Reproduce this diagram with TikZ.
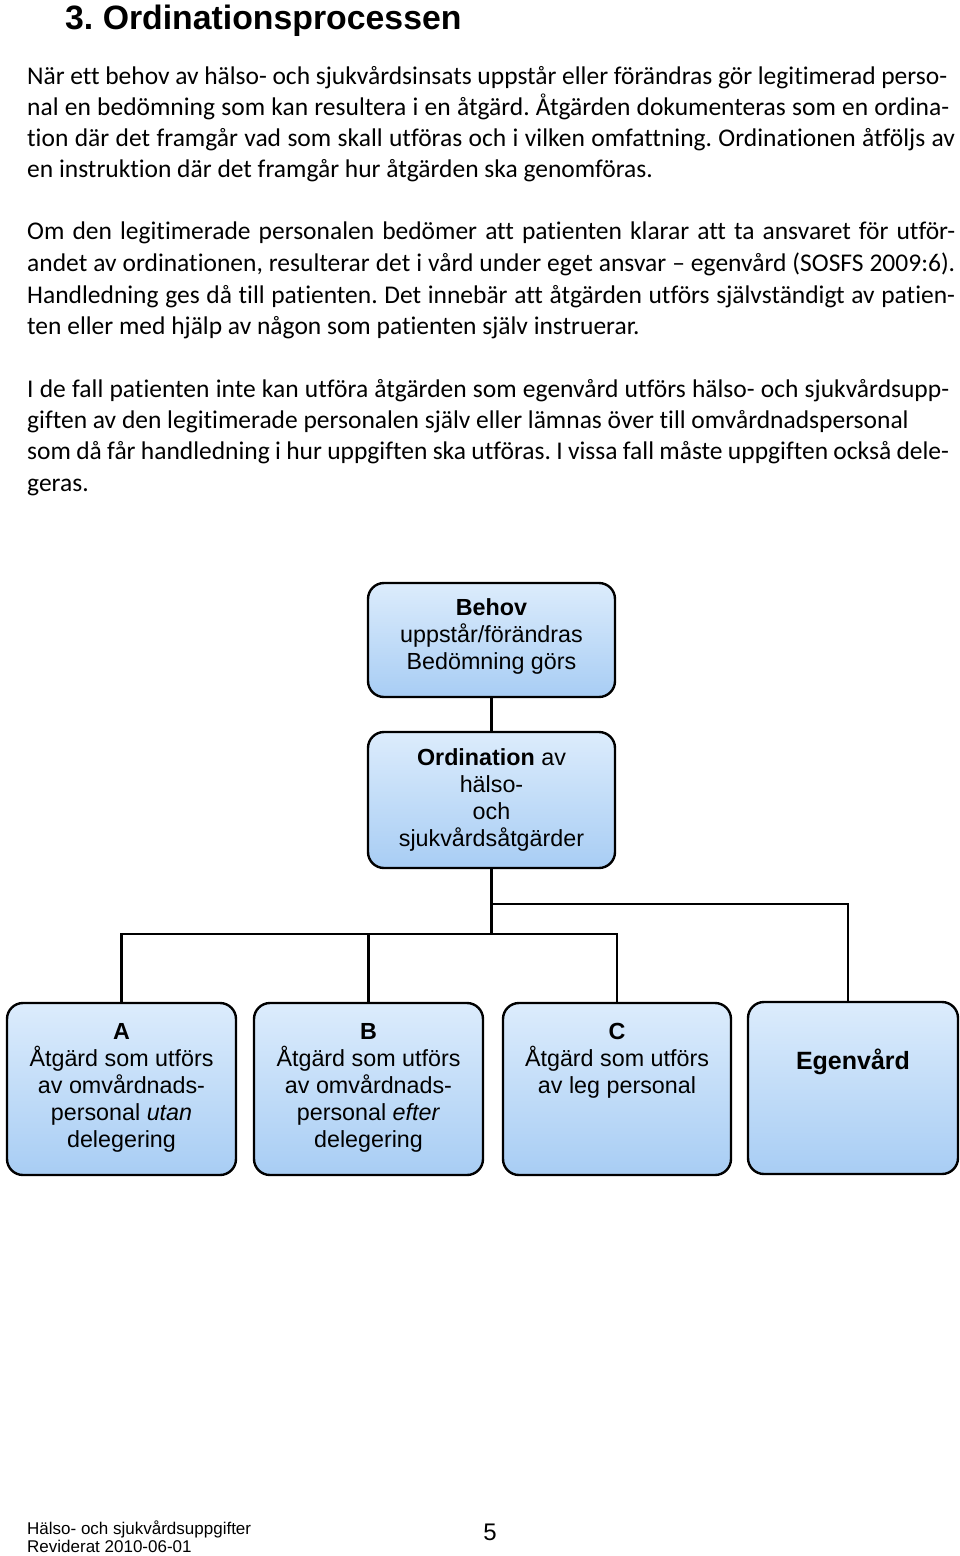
\documentclass[tikz,border=0pt]{standalone}
\usepackage{fontspec}
\setmainfont{Liberation Sans}
\newfontfamily\bodyfont[Ligatures={NoCommon}]{Carlito}
\definecolor{boxtop}{RGB}{220,236,252}
\definecolor{boxbot}{RGB}{168,205,244}
\frenchspacing
\begin{document}
\begin{tikzpicture}[x=1pt,y=-1pt,
  box/.style={draw=black, line width=2.4pt, rounded corners=16pt, top color=boxtop, bottom color=boxbot, inner sep=0pt, align=center, font=\fontsize{23.3}{27}\selectfont},
  conn/.style={line width=2.8pt},
  para/.style={anchor=base west, inner sep=0pt, font=\bodyfont\fontsize{25.5}{31}\selectfont},
  boxtext/.style={align=center, anchor=north, inner sep=0pt, font=\fontsize{23.3}{27}\selectfont}
]
\useasboundingbox (0,0) rectangle (960,1556);
% heading
\node[anchor=base west, inner sep=0pt, font=\bfseries\fontsize{33.8}{38}\selectfont] (head) at (65,29) {3. Ordinationsprocessen};
% paragraph 1
\node[para] (p11) at (27,84) {\hbox to 920pt{När ett behov av hälso- och sjukvårdsinsats uppstår eller förändras gör legitimerad perso-}};
\node[para] (p12) at (27,115) {\hbox to 922pt{nal en bedömning som kan resultera i en åtgärd. Åtgärden dokumenteras som en ordina-}};
\node[para] (p13) at (27,146) {\hbox to 928pt{tion där det framgår vad som skall utföras och i vilken omfattning. Ordinationen åtföljs av}};
\node[para] (p14) at (27,177) {en instruktion där det framgår hur åtgärden ska genomföras.};
% paragraph 2
\node[para] (p21) at (27,239) {\hbox to 928pt{Om den legitimerade personalen bedömer att patienten klarar att ta ansvaret för utför-}};
\node[para] (p22) at (27,271) {\hbox to 928pt{andet av ordinationen, resulterar det i vård under eget ansvar – egenvård (SOSFS 2009:6).}};
\node[para] (p23) at (27,303) {\hbox to 928pt{Handledning ges då till patienten. Det innebär att åtgärden utförs självständigt av patien-}};
\node[para] (p24) at (27,334) {ten eller med hjälp av någon som patienten själv instruerar.};
% paragraph 3
\node[para] (p31) at (27,397) {\hbox to 922pt{I de fall patienten inte kan utföra åtgärden som egenvård utförs hälso- och sjukvårdsupp-}};
\node[para] (p32) at (27,428) {giften av den legitimerade personalen själv eller lämnas över till omvårdnadspersonal};
\node[para] (p33) at (27,459) {\hbox to 922pt{som då får handledning i hur uppgiften ska utföras. I vissa fall måste uppgiften också dele-}};
\node[para] (p34) at (27,491) {geras.};
% boxes
\node[box, minimum width=247pt, minimum height=114pt] (behov) at (491.5,640) {};
\node[boxtext] (behovt) at ([yshift=-17pt]behov.north) {\textbf{Behov}\\uppstår/förändras\\Bedömning görs};
\node[box, minimum width=247pt, minimum height=136pt] (ord) at (491.5,800) {\textbf{Ordination} av\\hälso-\\och\\sjukvårdsåtgärder};
\node[box, minimum width=229pt, minimum height=172pt] (A) at (121.5,1089) {};
\node[box, minimum width=229pt, minimum height=172pt] (B) at (368.5,1089) {};
\node[box, minimum width=228pt, minimum height=172pt] (C) at (617,1089) {};
\node[box, minimum width=210pt, minimum height=172pt] (E) at (853,1088) {};
\node[boxtext] (At) at ([yshift=-21pt]A.north) {\textbf{A}\\Åtgärd som utförs\\av omvårdnads-\\personal \textit{utan}\\delegering};
\node[boxtext] (Bt) at ([yshift=-21pt]B.north) {\textbf{B}\\Åtgärd som utförs\\av omvårdnads-\\personal \textit{efter}\\delegering};
\node[boxtext] (Ct) at ([yshift=-21pt]C.north) {\textbf{C}\\Åtgärd som utförs\\av leg personal};
\node[inner sep=0pt, font=\bfseries\fontsize{25}{30}\selectfont] (Et) at (853,1062) {Egenvård};
% connectors
\coordinate (j1) at (491.5,904);
\coordinate (j2) at (491.5,934);
\draw[conn] (behov.south) -- (ord.north);
\draw[conn] (ord.south) -- (j2);
\draw[conn] (j1) -| ([xshift=-5pt]E.north);
\draw[conn] (A.north) |- (j2) -| (C.north);
\draw[conn] (B.north) -- (B.north |- j2);
% footer
\node[anchor=base west, inner sep=0pt, font=\fontsize{17}{18}\selectfont] (f1) at (27,1534) {Hälso- och sjukvårdsuppgifter};
\node[anchor=base west, inner sep=0pt, font=\fontsize{17}{18}\selectfont] (f2) at (27,1552) {Reviderat 2010-06-01};
\node[inner sep=0pt, font=\fontsize{24}{28}\selectfont] (pg) at (490,1532) {5};
\end{tikzpicture}
\end{document}
